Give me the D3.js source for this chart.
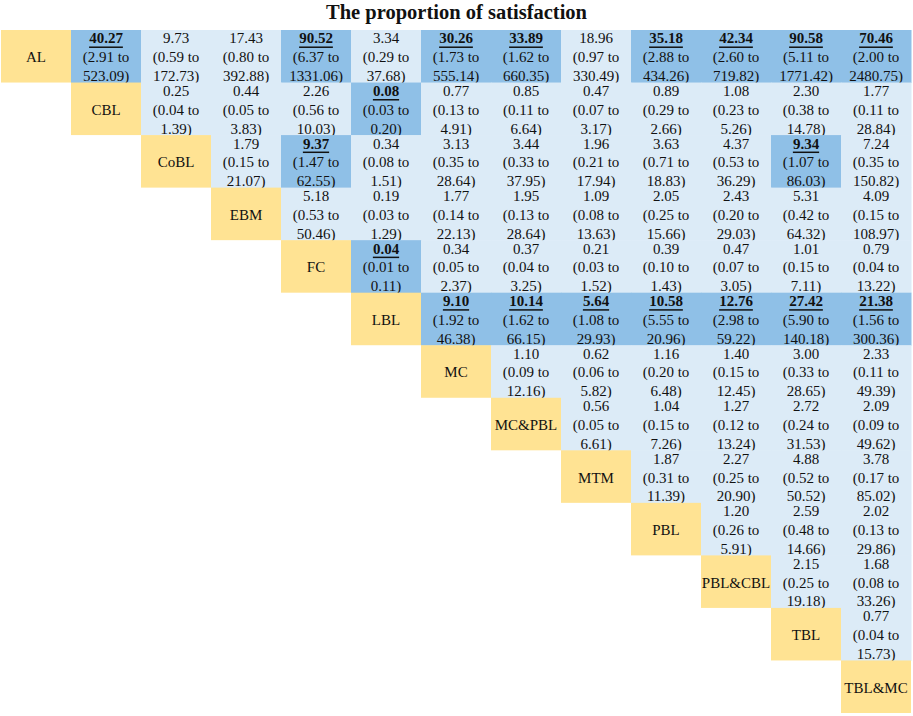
<!DOCTYPE html>
<html>
<head>
<meta charset="utf-8">
<script src="https://cdn.jsdelivr.net/npm/d3@7"></script>
<style>
  body { margin: 0; background: #fff; }
  text { font-family: "Liberation Serif", "Times New Roman", serif; fill: #111; }
</style>
</head>
<body>
<div id="chart"></div>
<script>
// league table: row treatment vs column treatment, OR (95% CI)
const treatments = ['AL', 'CBL', 'CoBL', 'EBM', 'FC', 'LBL', 'MC', 'MC&PBL', 'MTM', 'PBL', 'PBL&CBL', 'TBL', 'TBL&MC'];

// estimates[i] holds the cells right of the diagonal in row i
const estimates = [
  [40.27, 9.73, 17.43, 90.52, 3.34, 30.26, 33.89, 18.96, 35.18, 42.34, 90.58, 70.46],
  [0.25, 0.44, 2.26, 0.08, 0.77, 0.85, 0.47, 0.89, 1.08, 2.30, 1.77],
  [1.79, 9.37, 0.34, 3.13, 3.44, 1.96, 3.63, 4.37, 9.34, 7.24],
  [5.18, 0.19, 1.77, 1.95, 1.09, 2.05, 2.43, 5.31, 4.09],
  [0.04, 0.34, 0.37, 0.21, 0.39, 0.47, 1.01, 0.79],
  [9.10, 10.14, 5.64, 10.58, 12.76, 27.42, 21.38],
  [1.10, 0.62, 1.16, 1.40, 3.00, 2.33],
  [0.56, 1.04, 1.27, 2.72, 2.09],
  [1.87, 2.27, 4.88, 3.78],
  [1.20, 2.59, 2.02],
  [2.15, 1.68],
  [0.77],
];
const lower = [
  [2.91, 0.59, 0.80, 6.37, 0.29, 1.73, 1.62, 0.97, 2.88, 2.60, 5.11, 2.00],
  [0.04, 0.05, 0.56, 0.03, 0.13, 0.11, 0.07, 0.29, 0.23, 0.38, 0.11],
  [0.15, 1.47, 0.08, 0.35, 0.33, 0.21, 0.71, 0.53, 1.07, 0.35],
  [0.53, 0.03, 0.14, 0.13, 0.08, 0.25, 0.20, 0.42, 0.15],
  [0.01, 0.05, 0.04, 0.03, 0.10, 0.07, 0.15, 0.04],
  [1.92, 1.62, 1.08, 5.55, 2.98, 5.90, 1.56],
  [0.09, 0.06, 0.20, 0.15, 0.33, 0.11],
  [0.05, 0.15, 0.12, 0.24, 0.09],
  [0.31, 0.25, 0.52, 0.17],
  [0.26, 0.48, 0.13],
  [0.25, 0.08],
  [0.04],
];
const upper = [
  [523.09, 172.73, 392.88, 1331.06, 37.68, 555.14, 660.35, 330.49, 434.26, 719.82, 1771.42, 2480.75],
  [1.39, 3.83, 10.03, 0.20, 4.91, 6.64, 3.17, 2.66, 5.26, 14.78, 28.84],
  [21.07, 62.55, 1.51, 28.64, 37.95, 17.94, 18.83, 36.29, 86.03, 150.82],
  [50.46, 1.29, 22.13, 28.64, 13.63, 15.66, 29.03, 64.32, 108.97],
  [0.11, 2.37, 3.25, 1.52, 1.43, 3.05, 7.11, 13.22],
  [46.38, 66.15, 29.93, 20.96, 59.22, 140.18, 300.36],
  [12.16, 5.82, 6.48, 12.45, 28.65, 49.39],
  [6.61, 7.26, 13.24, 31.53, 49.62],
  [11.39, 20.90, 50.52, 85.02],
  [5.91, 14.66, 29.86],
  [19.18, 33.26],
  [15.73],
];

const width = 913;
const height = 716;
const margin = { t: 30, r: 2, b: 3, l: 1 };

const colors = { diag: '#ffe393', cell: '#dcebf7', sig: '#8fc0e7' };
const f2 = d3.format('.2f');

// flatten into cells
const cells = [];
estimates.forEach((row, i) => {
  row.forEach((v, k) => {
    const j = i + k + 1;
    const lo = lower[i][k];
    const hi = upper[i][k];
    // CI not crossing 1 -> highlighted
    cells.push({ row: treatments[i], col: treatments[j], est: v, lo, hi, sig: lo > 1 || hi < 1 });
  });
});

const svg = d3
  .select('#chart')
  .append('svg')
  .attr('width', width)
  .attr('height', height);

const x = d3.scaleBand().domain(treatments).range([margin.l, width - margin.r]);
const y = d3.scaleBand().domain(treatments).range([margin.t, height - margin.b]);

// title
svg
  .append('text')
  .attr('x', width / 2)
  .attr('y', 19)
  .attr('text-anchor', 'middle')
  .style('font-size', '20.5px')
  .style('font-weight', 'bold')
  .text('The proportion of satisfaction');

// off-diagonal cells
const g = svg
  .selectAll('g.cell')
  .data(cells)
  .join('g')
  .attr('class', 'cell')
  .attr('transform', (d) => `translate(${x(d.col)}, ${y(d.row)})`);

g.append('rect')
  .attr('width', x.bandwidth() + 0.5)
  .attr('height', y.bandwidth() + 0.5)
  .attr('fill', (d) => (d.sig ? colors.sig : colors.cell));

const mid = y.bandwidth() / 2 + 1;
const lines = (d) => [f2(d.est), `(${f2(d.lo)} to`, `${f2(d.hi)})`];

g.selectAll('text')
  .data((d) => lines(d).map((t, n) => ({ t, n, sig: d.sig })))
  .join('text')
  .attr('x', x.bandwidth() / 2)
  .attr('y', (d) => mid + (d.n - 1) * 18.8)
  .attr('text-anchor', 'middle')
  .attr('dominant-baseline', 'central')
  .style('font-size', '15px')
  .style('font-weight', (d) => (d.sig && d.n === 0 ? 'bold' : 'normal'))
  .style('text-decoration', (d) => (d.sig && d.n === 0 ? 'underline' : 'none'))
  .text((d) => d.t);

// diagonal labels
const diag = svg
  .selectAll('g.diag')
  .data(treatments)
  .join('g')
  .attr('class', 'diag')
  .attr('transform', (d) => `translate(${x(d)}, ${y(d)})`);

diag
  .append('rect')
  .attr('width', x.bandwidth())
  .attr('height', y.bandwidth())
  .attr('fill', colors.diag);

diag
  .append('text')
  .attr('x', x.bandwidth() / 2)
  .attr('y', mid)
  .attr('text-anchor', 'middle')
  .attr('dominant-baseline', 'central')
  .style('font-size', '15px')
  .text((d) => d);
</script>
</body>
</html>
